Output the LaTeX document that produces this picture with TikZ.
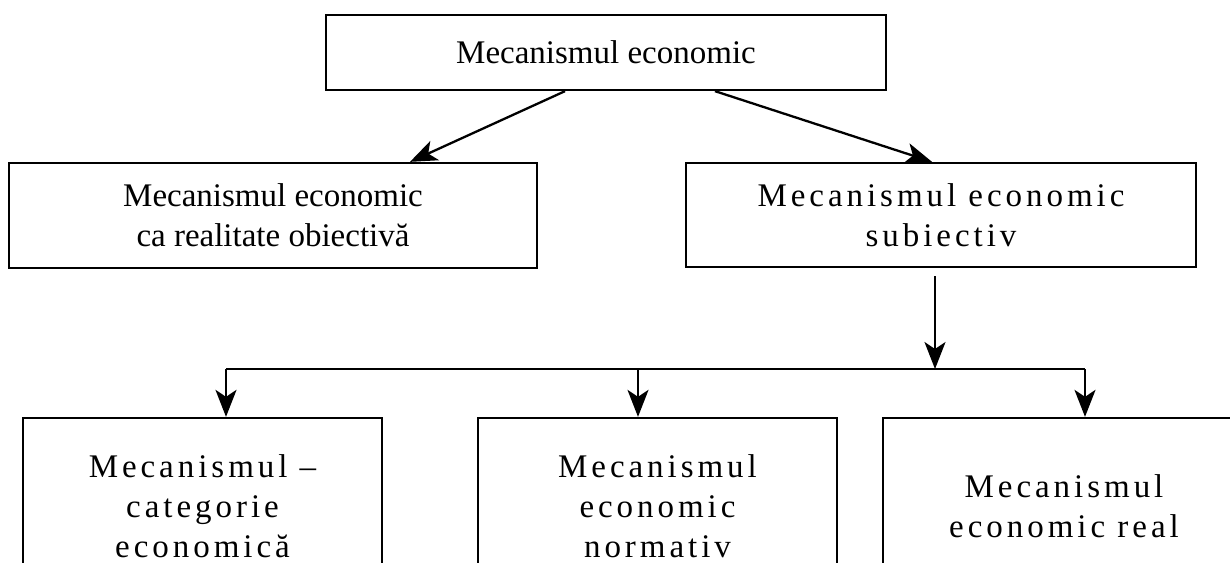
\documentclass[tikz,border=0pt]{standalone}
\usepackage{fontspec}
\setmainfont{Liberation Serif}
\newfontfamily\spaced[LetterSpace=12]{Liberation Serif}
\usetikzlibrary{arrows.meta}
\begin{document}
\begin{tikzpicture}[x=1pt,y=-1pt,
  box/.style={draw,line width=2.3pt,inner sep=0pt,align=center},
  plain/.style={font=\fontsize{33}{40}\selectfont},
  wide/.style={font=\spaced\fontsize{33}{40}\selectfont},
  wire/.style={line width=2.3pt},
  link/.style={wire,-{Stealth[length=27pt,width=21pt,inset=7pt]}}]
\useasboundingbox (0,0) rectangle (1230,562);
\clip (0,0) rectangle (1230,562);

% boxes
\node[box,plain,minimum width=560pt,minimum height=75pt] (top) at (606,52.5)
  {Mecanismul economic};
\node[box,plain,minimum width=528pt,minimum height=105pt] (lm) at (273,215.5)
  {Mecanismul economic\\ca realitate obiectivă};
\node[box,wide,minimum width=510pt,minimum height=104pt] (rm) at (941,215)
  {Mecanismul economic\\subiectiv};
\node[box,wide,minimum width=359pt,minimum height=176pt] (bl) at (202.5,506)
  {Mecanismul –\\categorie\\economică};
\node[box,wide,minimum width=359pt,minimum height=176pt] (bm) at (657.5,506)
  {Mecanismul\\economic\\normativ};
\node[box,wide,minimum width=362pt,minimum height=176pt] (br) at (1064,506)
  {Mecanismul\\economic real};

% first level
\draw[link] ([xshift=-41pt]top.south) -- ([xshift=137pt]lm.north);
\draw[link] ([xshift=109pt]top.south) -- ([xshift=-9pt]rm.north);

% distribution bar
\coordinate (b1) at (226,369);
\coordinate (b2) at (638,369);
\coordinate (b3) at (1085,369);
\coordinate (hub) at (935,369);
\draw[link] ([xshift=-6pt,yshift=-8pt]rm.south) -- (hub);
\draw[wire] (b1) -- (b3);
\draw[link] (b1) -- (b1 |- bl.north);
\draw[link] (b2) -- (b2 |- bm.north);
\draw[link] (b3) -- (b3 |- br.north);
\end{tikzpicture}
\end{document}
